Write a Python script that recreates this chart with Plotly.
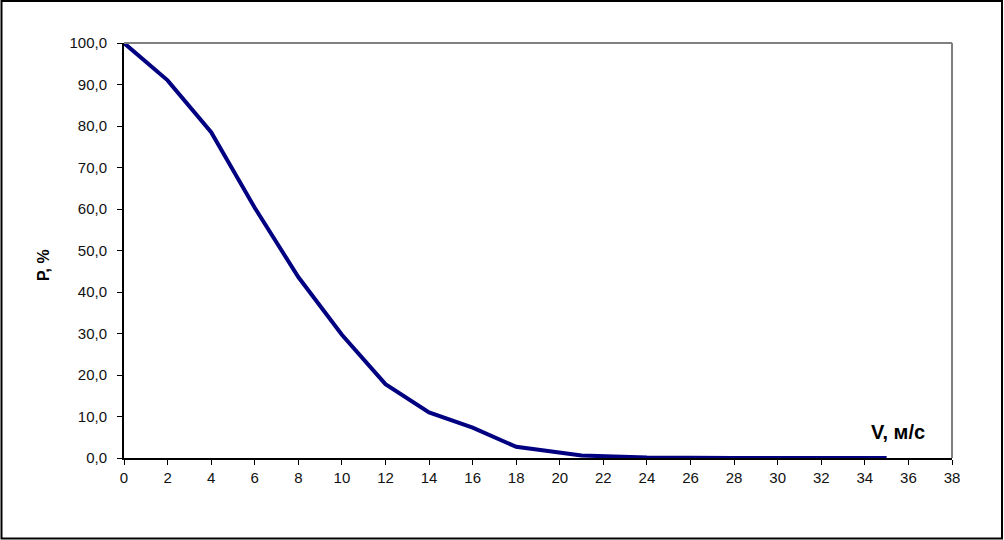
import plotly.graph_objects as go

# Data
speed = [0, 2, 4, 6, 8, 10, 12, 14, 16, 18, 21, 24, 28, 35]
prob = [100.0, 91.0, 78.5, 60.3, 43.6, 29.7, 17.8, 11.0, 7.3, 2.7, 0.6, 0.1, 0.0, 0.0]
x_ticks = list(range(0, 39, 2))
y_ticks = [0, 10, 20, 30, 40, 50, 60, 70, 80, 90, 100]
y_tick_labels = [f"{v:.1f}".replace(".", ",") for v in y_ticks]

W, H = 1004, 540
L, R, T, B = 124, 52, 43, 82
pw, ph = W - L - R, H - T - B

FAM = "Liberation Sans, Arial, sans-serif"
fig = go.Figure()
fig.add_trace(go.Scatter(
    x=speed, y=prob, mode="lines",
    line=dict(color="#000080", width=4),
    showlegend=False, hoverinfo="skip",
))

font = dict(family=FAM, size=15, color="#111111")

fig.update_layout(
    width=W, height=H,
    margin=dict(l=L, r=R, t=T, b=B),
    paper_bgcolor="white", plot_bgcolor="white",
    font=font,
    xaxis=dict(
        range=[0, 38], tickvals=x_ticks, ticktext=[str(v) for v in x_ticks],
        showgrid=False, zeroline=False,
        showline=True, linecolor="#000000", linewidth=2,
        ticks="outside", ticklen=5, tickcolor="black", tickwidth=1,
        tickfont=font,
    ),
    yaxis=dict(
        range=[0, 100], tickvals=y_ticks, ticktext=y_tick_labels,
        showgrid=False, zeroline=False,
        showline=True, linecolor="#000000", linewidth=2,
        ticks="outside", ticklen=5, tickcolor="black", tickwidth=1,
        tickfont=font, ticklabelstandoff=7,
    ),
)

# gray top and right borders of plot area
fig.add_shape(type="line", xref="paper", yref="paper", x0=0, x1=1, y0=1, y1=1,
              line=dict(color="#808080", width=2))
fig.add_shape(type="line", xref="paper", yref="paper", x0=1, x1=1, y0=0, y1=1,
              line=dict(color="#808080", width=2))

# outer chart border
fig.add_shape(type="rect", xref="paper", yref="paper",
              x0=(1.5 - L) / pw, x1=(W - 2 - L) / pw,
              y0=(T + ph - (H - 1.5)) / ph, y1=(T + ph - 1) / ph,
              line=dict(color="black", width=2), fillcolor="rgba(0,0,0,0)")

# axis titles
fig.add_annotation(
    x=(43 - L) / pw, y=(T + ph - 265) / ph, xref="paper", yref="paper",
    xanchor="center", yanchor="middle",
    text="<b>P, %</b>", showarrow=False, textangle=-90,
    font=dict(family=FAM, size=16, color="black"),
)
fig.add_annotation(
    x=35.54, y=6.3, xref="x", yref="y", xanchor="center", yanchor="middle",
    text="<b>V, м/с</b>", showarrow=False,
    font=dict(family=FAM, size=20, color="black"),
)

fig.write_html("out.html", config={"displayModeBar": False},
               post_script="document.body.style.margin='0';")
